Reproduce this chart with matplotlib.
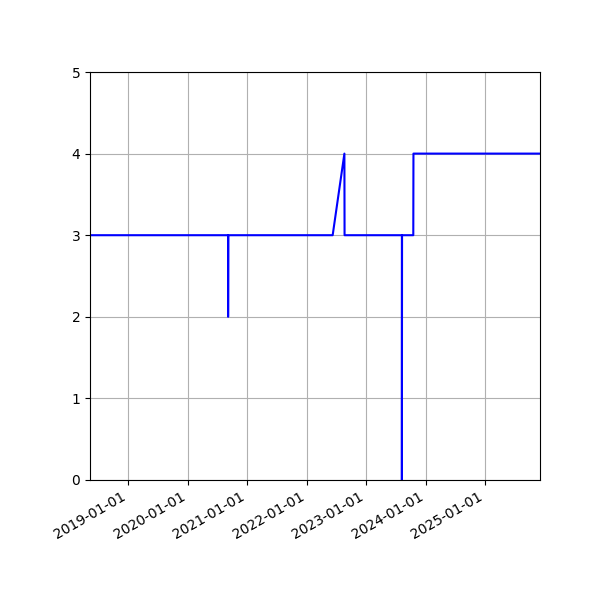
import matplotlib
matplotlib.use("Agg")
import matplotlib.pyplot as plt
import matplotlib.dates as mdates
import numpy as np
import pandas as pd

dates = ["2018-05-11", "2020-09-05", "2020-09-05", "2020-09-06", "2022-06-09",
         "2022-08-20", "2022-08-21", "2023-08-08", "2023-08-08", "2023-08-09",
         "2023-10-17", "2023-10-18", "2025-12-03"]
values = [3, 3, 2, 3, 3, 4, 3, 3, 0, 3, 3, 4, 4]
x_start = "2018-05-11"
x_end = "2025-12-03"

x = pd.to_datetime(dates)

fig = plt.figure(figsize=(6, 6), dpi=100)
ax = fig.add_subplot(111)
ax.plot(x, values, color="blue", linewidth=1.5)
ax.set_xlim(pd.Timestamp(x_start), pd.Timestamp(x_end))
ax.set_ylim(0, 5)
ax.xaxis.set_major_locator(mdates.YearLocator())
ax.xaxis.set_major_formatter(mdates.DateFormatter("%Y-%m-%d"))
ax.grid(True)
fig.autofmt_xdate()
fig.subplots_adjust(left=0.15, right=0.9, top=0.88, bottom=0.2)
fig.savefig("out.png", dpi=100)
